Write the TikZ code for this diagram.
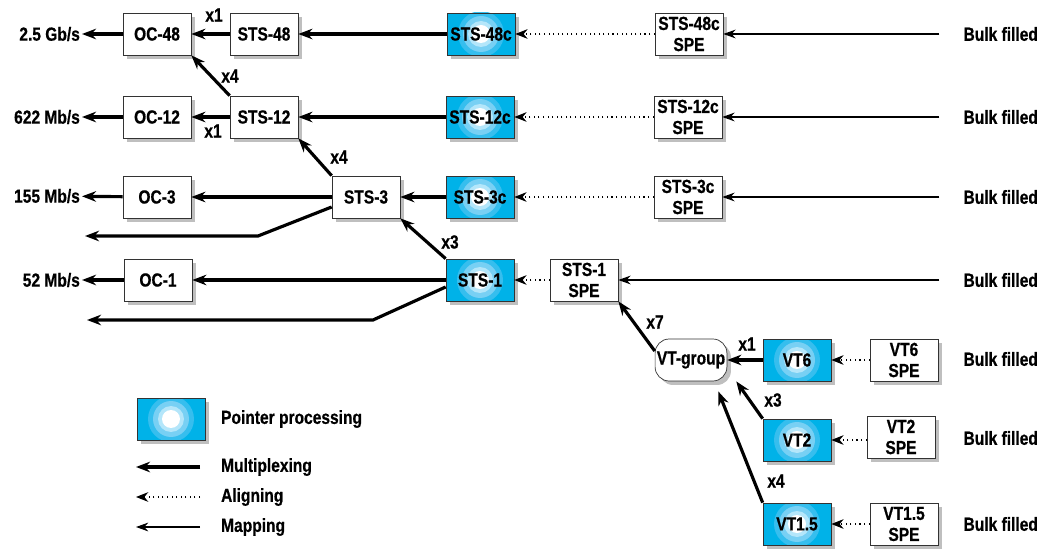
\documentclass[tikz,border=0pt]{standalone}
\usepackage{fontspec}
\setmainfont{Liberation Sans}[FakeStretch=0.82, BoldFeatures={FakeBold=0.6}]
\usepackage{tikz}
\usepackage{xcolor}
\usetikzlibrary{arrows.meta, positioning, shadows}

\definecolor{ptrblue}{HTML}{00B2E8}
\definecolor{ringA}{HTML}{36BEEE}
\definecolor{ringB}{HTML}{78D0F4}
\definecolor{ringC}{HTML}{B4E6FA}

\tikzset{
  lbl/.style={font=\bfseries\fontsize{10.8}{12}\selectfont, inner sep=1pt},
  plainbox/.style={lbl, draw=black!80, fill=white, minimum width=1.36cm, minimum height=0.84cm,
    align=center, drop shadow={shadow xshift=0.08cm, shadow yshift=-0.08cm, fill=black!25, opacity=1}},
  ptrbox/.style={plainbox, fill=ptrblue, path picture={
      \fill[ringA] (path picture bounding box.center) circle (0.46cm);
      \fill[ringB] (path picture bounding box.center) circle (0.36cm);
      \fill[ringC] (path picture bounding box.center) circle (0.26cm);
      \fill[white] (path picture bounding box.center) circle (0.18cm);}},
  mux/.style={line width=1.8pt, -{Stealth[length=8pt, width=6pt]}},
  aligning/.style={line width=0.6pt, dotted, -{Stealth[length=7pt, width=5.5pt]}},
  mapping/.style={line width=0.6pt, -{Stealth[length=7pt, width=5pt]}}
}

\begin{document}
\begin{tikzpicture}[x=0.02cm, y=-0.02cm]
    \useasboundingbox (0,0) rectangle (1047,550);

    % STS-48 row
    \node[plainbox] (oc48) at (157,34) {OC-48};
    \node[plainbox] (sts48) at (264,34) {STS-48};
    \node[ptrbox] (sts48c) at (481,34) {STS-48c};
    \node[plainbox] (spe48) at (689,34) {STS-48c\\SPE};

    % STS-12 row
    \node[plainbox] (oc12) at (157,117) {OC-12};
    \node[plainbox] (sts12) at (264,117) {STS-12};
    \node[ptrbox] (sts12c) at (480,117) {STS-12c};
    \node[plainbox] (spe12) at (688,117) {STS-12c\\SPE};

    % STS-3 row
    \node[plainbox] (oc3) at (157,197) {OC-3};
    \node[plainbox] (sts3) at (366,197) {STS-3};
    \node[ptrbox] (sts3c) at (480,197) {STS-3c};
    \node[plainbox] (spe3) at (688,197) {STS-3c\\SPE};

    % STS-1 row
    \node[plainbox] (oc1) at (158,280) {OC-1};
    \node[ptrbox] (sts1) at (480,280) {STS-1};
    \node[plainbox] (spe1) at (584,280) {STS-1\\SPE};

    % VT rows
    \node[plainbox, rounded corners=8pt] (vtg) at (691,360) {VT-group};
    \node[ptrbox] (vt6) at (797,360) {VT6};
    \node[plainbox] (spe6) at (904,360) {VT6\\SPE};
    \node[ptrbox] (vt2) at (797,440) {VT2};
    \node[plainbox] (spe2) at (901,437) {VT2\\SPE};
    \node[ptrbox] (vt15) at (797,524) {VT1.5};
    \node[plainbox] (spe15) at (904,524) {VT1.5\\SPE};

    % Line rates
    \node[lbl, anchor=east] (rate48) at (82,34) {2.5 Gb/s};
    \node[lbl, anchor=east] (rate12) at (82,117) {622 Mb/s};
    \node[lbl, anchor=east] (rate3) at (82,196) {155 Mb/s};
    \node[lbl, anchor=east] (rate1) at (82,280) {52 Mb/s};

    % Bulk filled inputs
    \foreach \n/\y in {b48/34, b12/117, b3/197, b1/280, b6/359, b2/438, b15/524} {
        \node[lbl, anchor=east] (\n) at (1040,\y) {Bulk filled};
    }

    % Multiplexing
    \draw[mux] (oc48) -- (rate48);
    \draw[mux] (oc12) -- (rate12);
    \draw[mux] (oc3) -- (rate3);
    \draw[mux] (oc1) -- (rate1);
    \draw[mux] (sts48) -- (oc48);
    \draw[mux] (sts48c) -- (sts48);
    \draw[mux] (sts12) -- (oc12);
    \draw[mux] (sts12c) -- (sts12);
    \draw[mux] (sts3) -- (oc3);
    \draw[mux] (sts3c) -- (sts3);
    \draw[mux] (sts1) -- (oc1);
    \draw[mux] (sts12.north west) -- (oc48.south east);
    \draw[mux] (sts3.north west) -- (sts12.south east);
    \draw[mux] (sts1.north west) -- (sts3.south east);
    \draw[mux] ([yshift=0.18cm]vtg.west) -- (spe1.south east);
    \draw[mux] (vt6) -- (vtg);
    \draw[mux] (vt2.north west) -- ([xshift=0.18cm]vtg.south east);
    \draw[mux] (vt15.north west) -- ([xshift=-0.18cm, yshift=-0.2cm]vtg.south east);

    % Lower branches
    \coordinate (bend3) at (258,236);
    \coordinate (out3) at (85,236);
    \draw[mux] ([yshift=-0.2cm]sts3.west) -- (bend3) -- (out3);
    \coordinate (bend1) at (373,320);
    \coordinate (out1) at (87,320);
    \draw[mux] ([yshift=-0.14cm]sts1.west) -- (bend1) -- (out1);

    % Aligning
    \draw[aligning] (spe48) -- (sts48c);
    \draw[aligning] (spe12) -- (sts12c);
    \draw[aligning] (spe3) -- (sts3c);
    \draw[aligning] (spe1) -- (sts1);
    \draw[aligning] (spe6) -- (vt6);
    \draw[aligning] (spe2.west |- vt2) -- (vt2);
    \draw[aligning] (spe15) -- (vt15);

    % Mapping
    \foreach \n/\s in {b48/spe48, b12/spe12, b3/spe3, b1/spe1} {
        \draw[mapping, shorten <=0.44cm] (\n) -- (\s);
    }

    % Multiplex factors
    \node[lbl] (f48) at (214,15) {x1};
    \node[lbl] (f12a) at (230,76) {x4};
    \node[lbl] (f12b) at (213,131) {x1};
    \node[lbl] (f3) at (339,157) {x4};
    \node[lbl] (f1) at (450,242) {x3};
    \node[lbl] (fvtg) at (655,322) {x7};
    \node[lbl] (fvt6) at (747,344) {x1};
    \node[lbl] (fvt2) at (773,400) {x3};
    \node[lbl] (fvt15) at (776,481) {x4};

    % Legend
    \node[ptrbox] (legptr) at (171,419) {};
    \node[lbl, anchor=west] (legptrtxt) at (219,419) {Pointer processing};
    \coordinate (legmuxa) at (200,467);
    \coordinate (legmuxb) at (136,467);
    \draw[mux] (legmuxa) -- (legmuxb);
    \node[lbl, anchor=west] (legmuxtxt) at (219,467) {Multiplexing};
    \coordinate (legaliga) at (200,497);
    \coordinate (legaligb) at (136,497);
    \draw[aligning] (legaliga) -- (legaligb);
    \node[lbl, anchor=west] (legaligtxt) at (219,497) {Aligning};
    \coordinate (legmapa) at (200,527);
    \coordinate (legmapb) at (136,527);
    \draw[mapping] (legmapa) -- (legmapb);
    \node[lbl, anchor=west] (legmaptxt) at (219,527) {Mapping};
\end{tikzpicture}
\end{document}
